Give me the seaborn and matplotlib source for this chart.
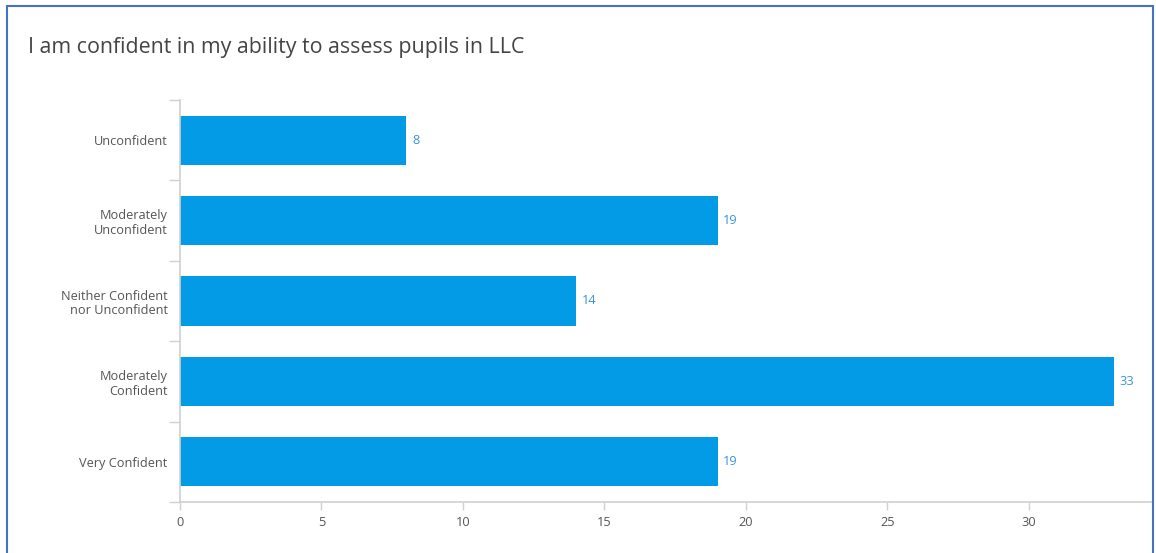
import matplotlib
matplotlib.use("Agg")
import matplotlib.pyplot as plt
import seaborn as sns
import pandas as pd
from matplotlib.patches import Rectangle

categories = ["Unconfident", "Moderately\nUnconfident", "Neither Confident\nnor Unconfident",
              "Moderately\nConfident", "Very Confident"]
values = [8, 19, 14, 33, 19]
xticks = [0, 5, 10, 15, 20, 25, 30]
title = "I am confident in my ability to assess pupils in LLC"

sns.set_theme(style="white")
plt.rcParams['font.family'] = ['Open Sans', 'DejaVu Sans']

df = pd.DataFrame({"category": categories, "value": values})

fig = plt.figure(figsize=(11.56, 5.53), dpi=100)
ax = fig.add_axes([180/1156, 1-502/553, (1152-180)/1156, (502-100)/553])

sns.barplot(data=df, y="category", x="value", orient="h", color="#039be5",
            saturation=1, width=0.61, linewidth=0, ax=ax)

ax.set_xlim(0, 34.35)
ax.set_ylim(4.5, -0.5)
ax.set_xticks(xticks)
ax.set_xticklabels([str(t) for t in xticks])
ax.set_xlabel("")
ax.set_ylabel("")

for s in ["top", "right"]:
    ax.spines[s].set_visible(False)
for s in ["left", "bottom"]:
    ax.spines[s].set_color("#d0d0d0")
    ax.spines[s].set_linewidth(1.2)

ax.tick_params(axis="x", which="major", length=6, width=1, color="#d0d0d0",
               labelsize=9.2, labelcolor="#555555", pad=4, bottom=True)
ax.tick_params(axis="y", which="major", length=0, labelsize=9.2, labelcolor="#555555", pad=9)
ax.set_yticks([i - 0.5 for i in range(len(categories) + 1)], minor=True)
ax.tick_params(axis="y", which="minor", length=8, width=1, color="#d0d0d0", left=True)
for lbl in ax.get_yticklabels():
    lbl.set_multialignment("right")

for i, v in enumerate(values):
    ax.annotate(str(v), xy=(v, i), xytext=(4, 0), textcoords="offset points",
                va="center", ha="left", fontsize=9.2, color="#3a95dc")

fig.text(28/1156, 1-48/553, title, fontsize=15.4, color="#444444", va="center", ha="left")

fig.patches.append(Rectangle((6.5/1156, -0.05), (1153-6.5)/1156, 1.05 - 6.5/553,
                             transform=fig.transFigure, fill=False,
                             edgecolor="#4472c4", linewidth=1.5, clip_on=False))

fig.savefig("out.png", dpi=100)
